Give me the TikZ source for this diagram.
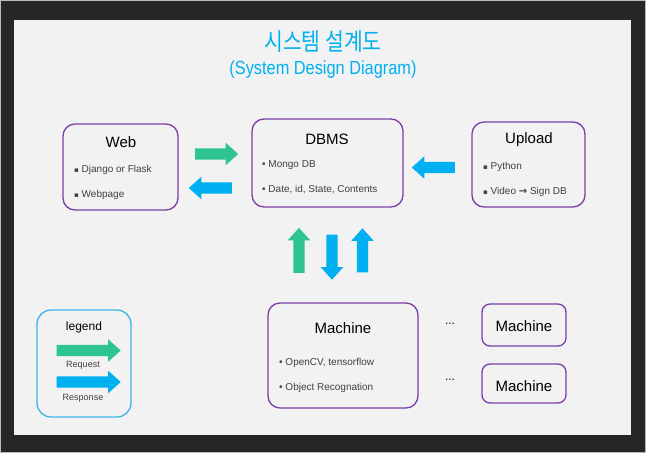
\documentclass[tikz,border=0pt]{standalone}
\usepackage{fontspec}
\setmainfont{Liberation Sans}
\newfontfamily\krfont[FakeStretch=0.85]{Noto Sans CJK KR}
\newfontfamily\titlefont[FakeStretch=0.86]{Liberation Sans}
\newfontfamily\symfont{DejaVu Sans}
\usetikzlibrary{shapes.arrows}

\definecolor{frame}{HTML}{262626}
\definecolor{paper}{HTML}{F2F2F2}
\definecolor{boxline}{HTML}{7B3FA6}
\definecolor{reqgreen}{HTML}{2EC48F}
\definecolor{resblue}{HTML}{00B0F0}
\definecolor{legline}{HTML}{3BB5E6}
\definecolor{bodytext}{HTML}{404040}

\newcommand{\sqb}{{\symfont\fontsize{7}{8}\selectfont ▪}\ }
\newcommand{\dtb}{•\ }

\tikzset{
  sysbox/.style={draw=boxline, line width=1.3pt, rounded corners=12pt, fill=paper, inner sep=0pt},
  boxtitle/.style={font=\fontsize{15}{18}\selectfont, text=black, inner sep=0pt},
  item/.style={anchor=west, font=\fontsize{10}{12}\selectfont, text=bodytext, inner sep=0pt},
  blockarrow/.style={single arrow, draw=none, inner xsep=0pt, inner ysep=5.5pt, outer sep=0pt,
    single arrow head extend=5.5pt, single arrow tip angle=84},
  upright/.style={inner xsep=5.5pt, inner ysep=0pt},
  request/.style={blockarrow, fill=reqgreen},
  response/.style={blockarrow, fill=resblue},
}

\begin{document}
\begin{tikzpicture}[x=1pt,y=-1pt]
\useasboundingbox (0,0) rectangle (646,453);
\fill[frame] (0,0) rectangle (646,453);
\draw[gray!55, line width=0.8pt] (0.4,0.4) rectangle (645.6,452.6);
\fill[paper] (14,20) rectangle (631,435);

% title
\node[text=resblue, inner sep=0pt, font=\krfont\fontsize{24}{28}\selectfont] (title) at (323,42) {시스템 설계도};
\node[text=resblue, inner sep=0pt, font=\titlefont\fontsize{19}{22}\selectfont] (subtitle) at (323,70) {(System Design Diagram)};

% boxes
\node[sysbox, minimum width=115pt, minimum height=86pt] (web) at (120.5,167) {};
\node[sysbox, minimum width=151pt, minimum height=88pt] (dbms) at (327.5,163) {};
\node[sysbox, minimum width=113pt, minimum height=85pt] (upload) at (528.5,164.5) {};
\node[sysbox, minimum width=150pt, minimum height=105pt] (machine) at (343,355.5) {};
\node[sysbox, rounded corners=8pt, minimum width=84pt, minimum height=42pt] (machinea) at (524,325) {};
\node[sysbox, rounded corners=8pt, minimum width=84pt, minimum height=39pt] (machineb) at (524,383.5) {};
\node[draw=legline, line width=1.3pt, rounded corners=14pt, minimum width=94pt, minimum height=107pt] (legend) at (84,363.5) {};

% box texts
\node[boxtitle] (webtitle) at (121,142) {Web};
\node[item] (webone) at (74,170) {\sqb Django or Flask};
\node[item] (webtwo) at (74,195) {\sqb Webpage};

\node[boxtitle] (dbmstitle) at (327,139) {DBMS};
\node[item] (dbmsone) at (262,165) {\dtb Mongo DB};
\node[item] (dbmstwo) at (262,190) {\dtb Date, id, State, Contents};

\node[boxtitle] (uploadtitle) at (529,140) {Upload};
\node[item] (uploadone) at (483,167) {\sqb Python};
\node[item] (uploadtwo) at (483,192) {\sqb Video {\symfont\bfseries →} Sign DB};

\node[boxtitle] (machinetitle) at (343,328) {Machine};
\node[item] (machineone) at (279,363) {\dtb OpenCV, tensorflow};
\node[item] (machinetwo) at (279,388) {\dtb Object Recognation};

\node[boxtitle] (machineatitle) at (524,326) {Machine};
\node[boxtitle] (machinebtitle) at (524,386) {Machine};
\node[boxtitle, font=\fontsize{12}{14}\selectfont] (dotsa) at (450,324) {...};
\node[boxtitle, font=\fontsize{12}{14}\selectfont] (dotsb) at (450,380) {...};

% legend
\node[inner sep=0pt, font=\fontsize{12}{14}\selectfont] (legendtitle) at (84,327) {legend};
\node[request, minimum height=64pt] (legreq) at (85.5,350.5) {};
\node[inner sep=0pt, text=bodytext, font=\fontsize{9}{11}\selectfont] (legreqtext) at (83,365) {Request};
\node[response, minimum height=64pt] (legres) at (85.5,382) {};
\node[inner sep=0pt, text=bodytext, font=\fontsize{9}{11}\selectfont] (legrestext) at (83,398) {Response};

% arrows between boxes
\node[request, minimum height=43pt] (webreq) at (213.5,154) {};
\node[response, minimum height=43pt, shape border rotate=180] (webres) at (213.5,188) {};
\node[response, minimum height=43pt, shape border rotate=180] (uploadres) at (436.5,167.5) {};
\node[request, upright, minimum height=45pt, shape border rotate=90] (machreq) at (299,253.5) {};
\node[response, upright, minimum height=45pt, shape border rotate=270] (machres) at (332,254) {};
\node[response, upright, minimum height=44pt, shape border rotate=90] (machup) at (362.5,253.5) {};
\end{tikzpicture}
\end{document}
